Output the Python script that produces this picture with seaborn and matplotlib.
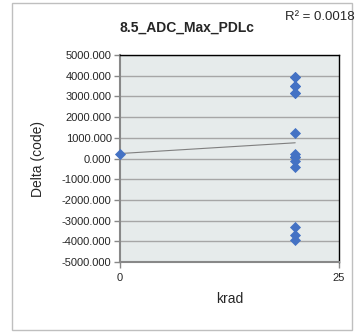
import numpy as np
import pandas as pd
import matplotlib
matplotlib.use("Agg")
import matplotlib.pyplot as plt
import seaborn as sns

sns.set_style("white")
plt.rcParams['font.family'] = ['Liberation Sans', 'DejaVu Sans']

# data (krad vs delta code)
krad = [0, 20, 20, 20, 20, 20, 20, 20, 20, 20, 20, 20, 20, 20, 20, 20]
delta = [240, 3950, 3950, 3520, 3520, 3160, 3160, 1210, 240, 50, 50,
         -115, -400, -3290, -3690, -3930]
y_ticks = [-5000, -4000, -3000, -2000, -1000, 0, 1000, 2000, 3000, 4000, 5000]
x_ticks = [0, 25]
title = "8.5_ADC_Max_PDLc"
r2_text = "R² = 0.0018"

df = pd.DataFrame({"krad": krad, "delta": delta})

fig = plt.figure(figsize=(3.58, 3.33), dpi=100)
ax = fig.add_axes([0.335, 0.213, 0.612, 0.622])
ax.set_facecolor("#E6EBEB")

# outer chart border
fig.patches.append(plt.Rectangle((0.034, 0.009), 0.949, 0.982, transform=fig.transFigure,
                                 fill=False, edgecolor="#BFBFBF", linewidth=1.0))

ax.set_axisbelow(True)
ax.grid(axis="y", color="#A6A6A6", linewidth=1.0)

sns.regplot(data=df, x="krad", y="delta", scatter=False, ci=None, truncate=True,
            line_kws={"color": "#7F7F7F", "linewidth": 0.8}, ax=ax)
sns.scatterplot(data=df, x="krad", y="delta", marker="D", s=32, color="#4472C4",
                edgecolor="#4472C4", linewidth=0, ax=ax, zorder=3, clip_on=False)

ax.set_xlim(0, 25)
ax.set_ylim(-5000, 5000)
ax.set_xticks(x_ticks)
ax.set_yticks(y_ticks)
ax.set_yticklabels([f"{v:.3f}" for v in y_ticks])
ax.tick_params(axis="y", length=4, width=1, color="#888888", labelsize=8, pad=2, left=True)
ax.tick_params(axis="x", length=4, width=1, color="#888888", labelsize=8, pad=4, bottom=True)

for side in ["top", "right"]:
    ax.spines[side].set_color("black")
    ax.spines[side].set_linewidth(1.0)
for side in ["left", "bottom"]:
    ax.spines[side].set_color("#888888")
    ax.spines[side].set_linewidth(1.5)

ax.set_xlabel("krad", fontsize=10, labelpad=6)
ax.set_ylabel("Delta (code)", fontsize=10, labelpad=12)

fig.text(0.522, 0.918, title, ha="center", va="center", fontsize=10, fontweight="bold")
fig.text(0.795, 0.948, r2_text, ha="left", va="center", fontsize=9.5)

fig.savefig("out.png", dpi=100)
